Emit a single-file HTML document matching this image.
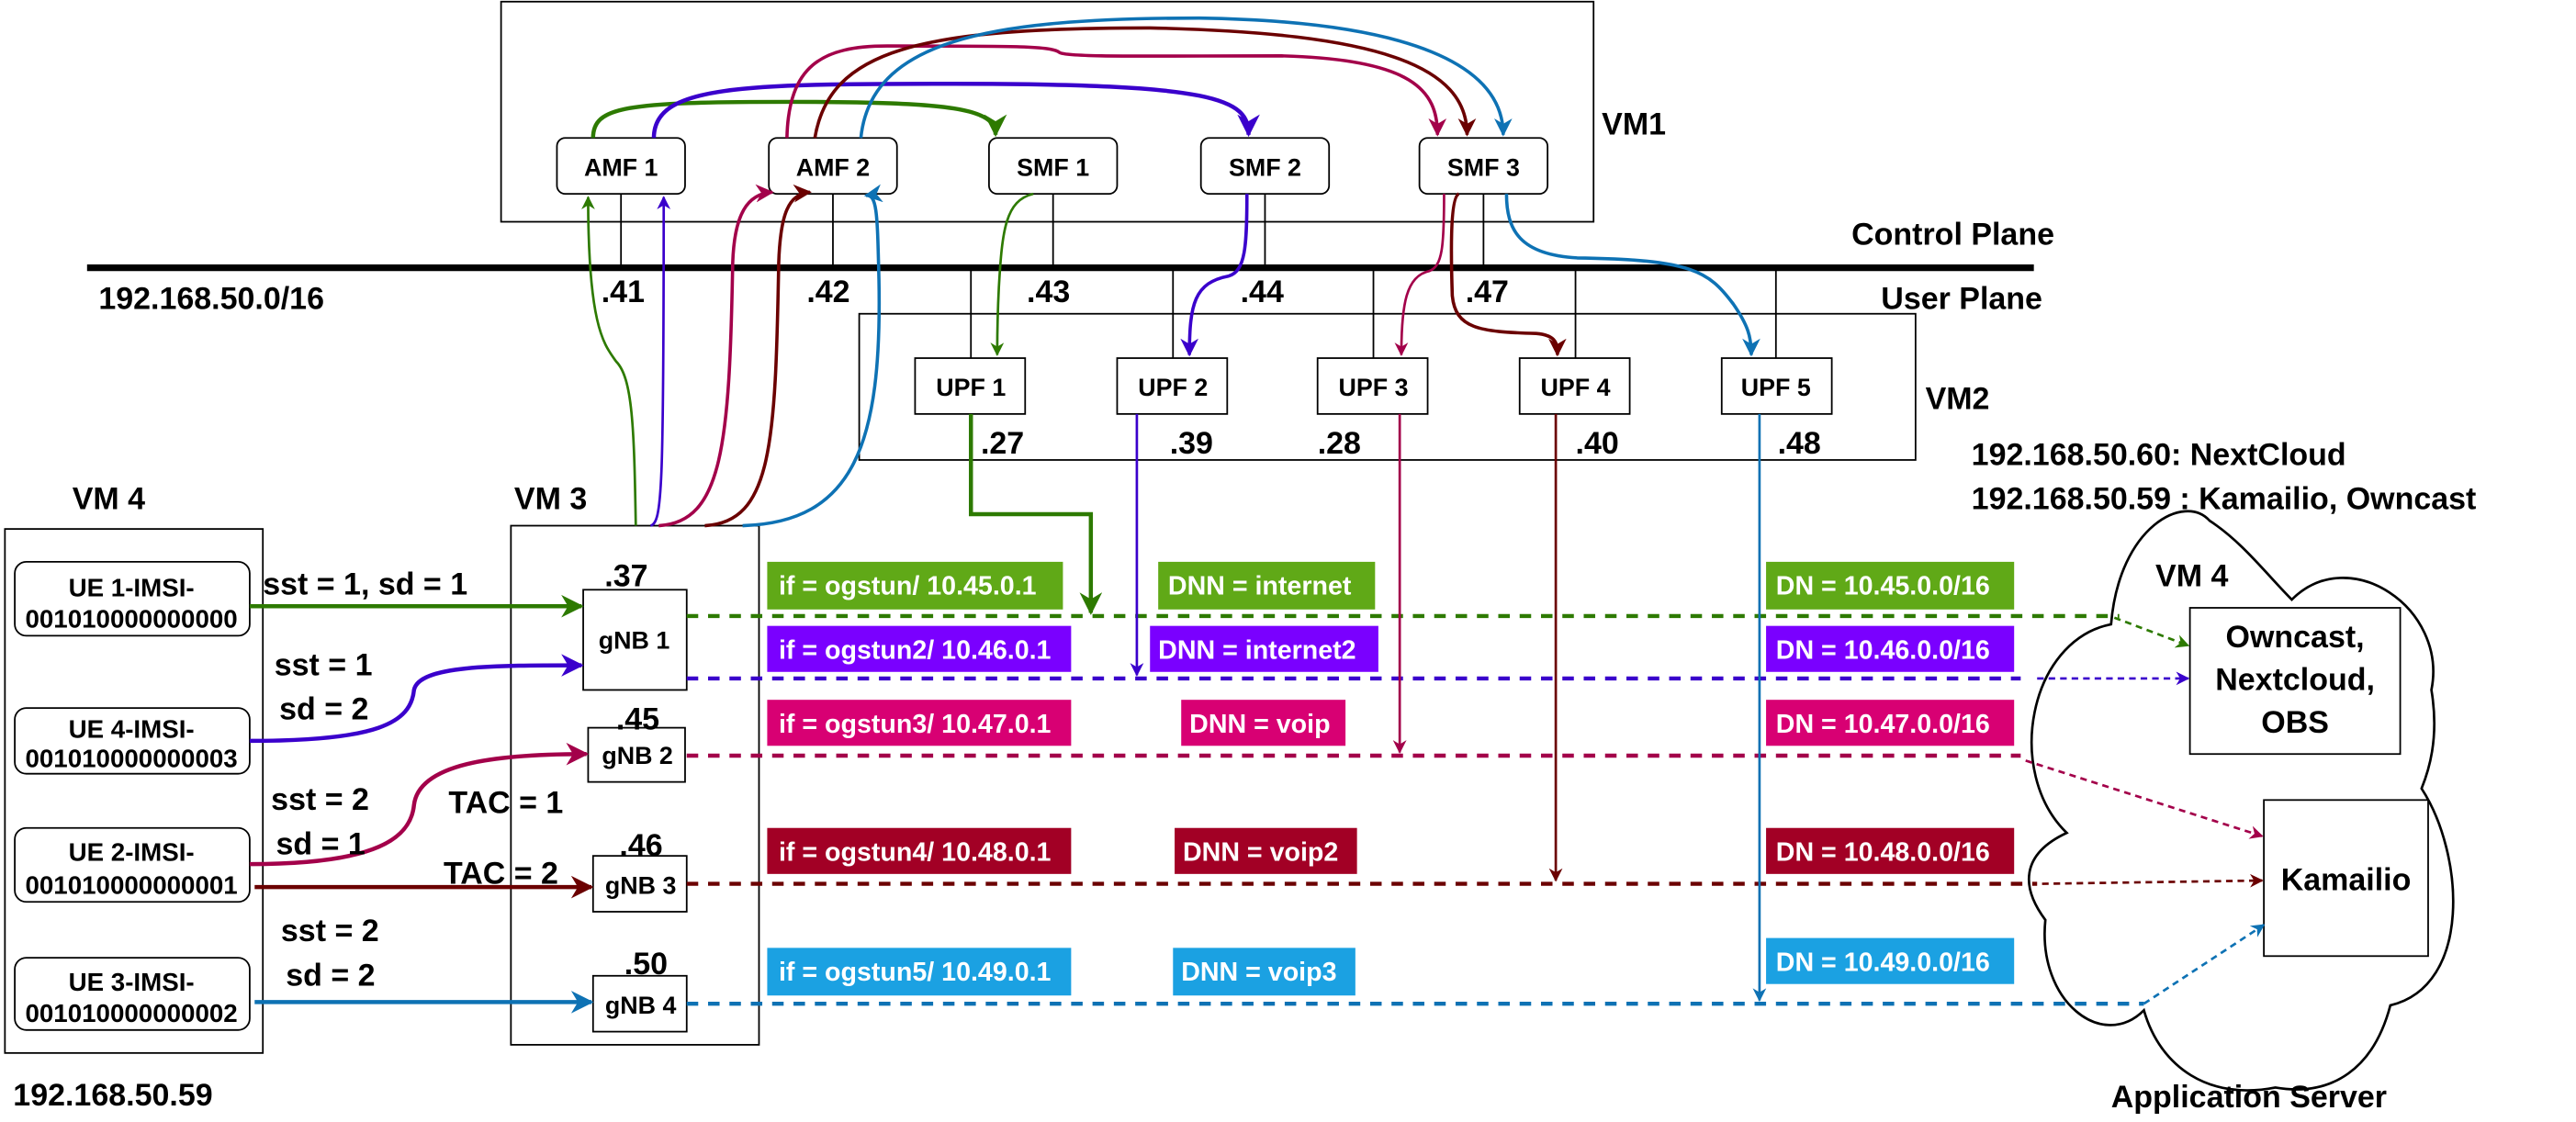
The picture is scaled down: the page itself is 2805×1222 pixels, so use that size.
<!DOCTYPE html>
<html><head><meta charset="utf-8"><style>
html,body{margin:0;padding:0;background:#fff;}
svg{display:block;}
text{font-family:"Liberation Sans",Arial,sans-serif;font-weight:bold;}
</style></head><body>
<svg width="2805" height="1222" viewBox="0 0 1568 683" preserveAspectRatio="none" xmlns="http://www.w3.org/2000/svg">
<defs>
<marker id="ag" viewBox="0 0 10 10" refX="9" refY="5" markerWidth="5.5" markerHeight="5.5" orient="auto-start-reverse"><path d="M0,0 L10,5 L0,10 L3,5z" fill="#2d7a00"/></marker>
<marker id="ap" viewBox="0 0 10 10" refX="9" refY="5" markerWidth="5.5" markerHeight="5.5" orient="auto"><path d="M0,0 L10,5 L0,10 L3,5z" fill="#3a00cc"/></marker>
<marker id="ac" viewBox="0 0 10 10" refX="9" refY="5" markerWidth="5.5" markerHeight="5.5" orient="auto"><path d="M0,0 L10,5 L0,10 L3,5z" fill="#a3004a"/></marker>
<marker id="ad" viewBox="0 0 10 10" refX="9" refY="5" markerWidth="5.5" markerHeight="5.5" orient="auto"><path d="M0,0 L10,5 L0,10 L3,5z" fill="#6b0000"/></marker>
<marker id="ab" viewBox="0 0 10 10" refX="9" refY="5" markerWidth="5.5" markerHeight="5.5" orient="auto"><path d="M0,0 L10,5 L0,10 L3,5z" fill="#0e72b4"/></marker>
</defs>
<g fill="none" stroke="#000" stroke-width="1">
<rect x="305" y="1" width="665" height="134"/>
<rect x="523" y="191" width="643" height="89"/>
<rect x="3" y="322" width="157" height="319"/>
<rect x="311" y="320" width="151" height="316"/>
<rect x="339" y="84" width="78" height="34" rx="5"/>
<rect x="468" y="84" width="78" height="34" rx="5"/>
<rect x="602" y="84" width="78" height="34" rx="5"/>
<rect x="731" y="84" width="78" height="34" rx="5"/>
<rect x="864" y="84" width="78" height="34" rx="5"/>
<rect x="557" y="218" width="67" height="34"/>
<rect x="680" y="218" width="67" height="34"/>
<rect x="802" y="218" width="67" height="34"/>
<rect x="925" y="218" width="67" height="34"/>
<rect x="1048" y="218" width="67" height="34"/>
<rect x="9" y="342" width="143" height="45" rx="7"/>
<rect x="9" y="431" width="143" height="40" rx="7"/>
<rect x="9" y="504" width="143" height="45" rx="7"/>
<rect x="9" y="583" width="143" height="44" rx="7"/>
<rect x="355" y="359" width="63" height="61"/>
<rect x="358" y="443" width="59" height="33"/>
<rect x="361" y="521" width="57" height="34"/>
<rect x="361" y="594" width="57" height="34"/>
<path d="M378,118V163 M507,118V163 M641,118V163 M770,118V163 M903,118V163 M591,163V218 M714,163V218 M836,163V218 M959,163V218 M1081,163V218"/>
</g>
<line x1="53" y1="163" x2="1238" y2="163" stroke="#000" stroke-width="4"/>
<path d="M1285,380 C1290,320 1330,300 1345,317 C1365,330 1380,350 1395,365 C1430,330 1490,370 1480,420 C1485,450 1478,470 1474,480 C1500,520 1505,600 1455,612 C1445,650 1420,668 1385,662 C1345,670 1315,650 1305,615 C1280,640 1240,610 1245,560 C1230,540 1230,520 1258,507 C1220,470 1235,390 1285,380 Z" fill="none" stroke="#000" stroke-width="1.5"/>
<rect x="1333" y="370" width="128" height="89" fill="#fff" stroke="#000"/>
<rect x="1378" y="487" width="100" height="95" fill="#fff" stroke="#000"/>
<g>
<rect x="467" y="342" width="180" height="29" fill="#60a917"/>
<rect x="705" y="342" width="132" height="29" fill="#60a917"/>
<rect x="1075" y="342" width="151" height="29" fill="#60a917"/>
<rect x="467" y="381" width="185" height="28" fill="#7a00ff"/>
<rect x="700" y="381" width="139" height="28" fill="#7a00ff"/>
<rect x="1075" y="381" width="151" height="28" fill="#7a00ff"/>
<rect x="467" y="426" width="185" height="28" fill="#d80073"/>
<rect x="719" y="426" width="100" height="28" fill="#d80073"/>
<rect x="1075" y="426" width="151" height="28" fill="#d80073"/>
<rect x="467" y="504" width="185" height="28" fill="#a20025"/>
<rect x="715" y="504" width="111" height="28" fill="#a20025"/>
<rect x="1075" y="504" width="151" height="28" fill="#a20025"/>
<rect x="467" y="577" width="185" height="29" fill="#1ba1e2"/>
<rect x="714" y="577" width="111" height="29" fill="#1ba1e2"/>
<rect x="1075" y="571" width="151" height="28" fill="#1ba1e2"/>
</g>
<g fill="#fff" font-size="16">
<text x="474" y="362">if = ogstun/ 10.45.0.1</text>
<text x="711" y="362">DNN = internet</text>
<text x="1081" y="362">DN = 10.45.0.0/16</text>
<text x="474" y="401">if = ogstun2/ 10.46.0.1</text>
<text x="705" y="401">DNN = internet2</text>
<text x="1081" y="401">DN = 10.46.0.0/16</text>
<text x="474" y="446">if = ogstun3/ 10.47.0.1</text>
<text x="724" y="446">DNN = voip</text>
<text x="1081" y="446">DN = 10.47.0.0/16</text>
<text x="474" y="524">if = ogstun4/ 10.48.0.1</text>
<text x="720" y="524">DNN = voip2</text>
<text x="1081" y="524">DN = 10.48.0.0/16</text>
<text x="474" y="597">if = ogstun5/ 10.49.0.1</text>
<text x="719" y="597">DNN = voip3</text>
<text x="1081" y="591">DN = 10.49.0.0/16</text>
</g>
<g fill="none" stroke-width="2.5" stroke-dasharray="7,6">
<path d="M418,375H1290" stroke="#2d7a00"/>
<path d="M418,413H1230" stroke="#3a00cc"/>
<path d="M418,460H1230" stroke="#a3004a"/>
<path d="M418,538H1240" stroke="#6b0000"/>
<path d="M418,611H1305" stroke="#0e72b4"/>
</g>
<g fill="none" stroke-width="1.5" stroke-dasharray="4,3">
<path d="M1287,376L1332,393" stroke="#2d7a00" marker-end="url(#ag)"/>
<path d="M1240,413H1332" stroke="#3a00cc" marker-end="url(#ap)"/>
<path d="M1233,463L1377,509" stroke="#a3004a" marker-end="url(#ac)"/>
<path d="M1243,538L1377,536" stroke="#6b0000" marker-end="url(#ad)"/>
<path d="M1305,611L1378,563" stroke="#0e72b4" marker-end="url(#ab)"/>
</g>
<g fill="none" stroke-width="2">
<path d="M152,369H354" stroke="#2d7a00" stroke-width="2.5" marker-end="url(#ag)"/>
<path d="M152,451C230,451 250,440 252,420C255,405 300,405 354,405" stroke="#3a00cc" stroke-width="2.5" marker-end="url(#ap)"/>
<path d="M152,526C230,526 250,510 252,490C255,465 300,459 357,459" stroke="#a3004a" stroke-width="2.5" marker-end="url(#ac)"/>
<path d="M155,540H360" stroke="#6b0000" stroke-width="2.5" marker-end="url(#ad)"/>
<path d="M155,610H360" stroke="#0e72b4" stroke-width="2.5" marker-end="url(#ab)"/>
<path d="M591,252V313H664V373" stroke="#2d7a00" stroke-width="2.5" marker-end="url(#ag)"/>
<path d="M692,252V411" stroke="#3a00cc" stroke-width="1.5" marker-end="url(#ap)"/>
<path d="M852,252V458" stroke="#a3004a" stroke-width="1.5" marker-end="url(#ac)"/>
<path d="M947,252V536" stroke="#6b0000" stroke-width="1.5" marker-end="url(#ad)"/>
<path d="M1071,252V609" stroke="#0e72b4" stroke-width="1.5" marker-end="url(#ab)"/>
<path d="M387,320C386,260 385,230 375,220C368,210 358,200 358,120" stroke="#2d7a00" stroke-width="1.5" marker-end="url(#ag)"/>
<path d="M396,320C403,318 404,300 404,120" stroke="#3a00cc" stroke-width="1.5" marker-end="url(#ap)"/>
<path d="M401,320C440,318 444,270 446,160C447,130 455,118 470,117" stroke="#a3004a" stroke-width="2" marker-end="url(#ac)"/>
<path d="M429,320C470,318 472,270 474,160C475,130 480,118 493,117" stroke="#6b0000" stroke-width="2" marker-end="url(#ad)"/>
<path d="M452,320C520,318 537,270 535,170C534,130 534,118 527,119" stroke="#0e72b4" stroke-width="2" marker-end="url(#ab)"/>
<path d="M361,84C361,65 380,62 480,62C580,62 606,66 606,82" stroke="#2d7a00" stroke-width="2.5" marker-end="url(#ag)"/>
<path d="M398,84C398,52 450,51 580,51C740,51 760,60 760,82" stroke="#3a00cc" stroke-width="2.5" marker-end="url(#ap)"/>
<path d="M479,84C480,40 500,28 540,28C620,28 640,28 645,32C650,35 700,34 780,34C860,36 875,55 875,82" stroke="#a3004a" stroke-width="2" marker-end="url(#ac)"/>
<path d="M496,84C505,30 560,17 700,17C840,20 893,40 893,82" stroke="#6b0000" stroke-width="2" marker-end="url(#ad)"/>
<path d="M524,84C530,25 600,11 730,11C860,13 915,40 915,82" stroke="#0e72b4" stroke-width="2" marker-end="url(#ab)"/>
<path d="M629,118C612,122 610,140 608,175C607,195 607,205 607,216" stroke="#2d7a00" stroke-width="1.5" marker-end="url(#ag)"/>
<path d="M759,118C759,150 758,165 748,168C727,172 724,185 724,216" stroke="#3a00cc" stroke-width="2" marker-end="url(#ap)"/>
<path d="M879,118C879,150 878,162 870,165C856,168 853,185 853,216" stroke="#a3004a" stroke-width="1.5" marker-end="url(#ac)"/>
<path d="M888,118C883,120 883,150 884,180C886,200 900,202 935,203C948,204 948,210 948,216" stroke="#6b0000" stroke-width="2" marker-end="url(#ad)"/>
<path d="M917,118C917,140 925,155 960,157C1030,158 1040,165 1055,185C1064,198 1066,205 1066,216" stroke="#0e72b4" stroke-width="2" marker-end="url(#ab)"/>
</g>
<g fill="#000">
<g font-size="15">
<text x="378" y="107" text-anchor="middle">AMF 1</text>
<text x="507" y="107" text-anchor="middle">AMF 2</text>
<text x="641" y="107" text-anchor="middle">SMF 1</text>
<text x="770" y="107" text-anchor="middle">SMF 2</text>
<text x="903" y="107" text-anchor="middle">SMF 3</text>
<text x="591" y="241" text-anchor="middle">UPF 1</text>
<text x="714" y="241" text-anchor="middle">UPF 2</text>
<text x="836" y="241" text-anchor="middle">UPF 3</text>
<text x="959" y="241" text-anchor="middle">UPF 4</text>
<text x="1081" y="241" text-anchor="middle">UPF 5</text>
<text x="386" y="395" text-anchor="middle">gNB 1</text>
<text x="388" y="465" text-anchor="middle">gNB 2</text>
<text x="390" y="544" text-anchor="middle">gNB 3</text>
<text x="390" y="617" text-anchor="middle">gNB 4</text>
</g>
<g font-size="15.5" text-anchor="middle">
<text x="80" y="363">UE 1-IMSI-</text><text x="80" y="382">001010000000000</text>
<text x="80" y="449">UE 4-IMSI-</text><text x="80" y="467">001010000000003</text>
<text x="80" y="524">UE 2-IMSI-</text><text x="80" y="544">001010000000001</text>
<text x="80" y="603">UE 3-IMSI-</text><text x="80" y="622">001010000000002</text>
</g>
<g font-size="19">
<text x="975" y="82">VM1</text>
<text x="1127" y="149">Control Plane</text>
<text x="1145" y="188">User Plane</text>
<text x="60" y="188">192.168.50.0/16</text>
<text x="1172" y="249">VM2</text>
<text x="1200" y="283">192.168.50.60: NextCloud</text>
<text x="1200" y="310">192.168.50.59 : Kamailio, Owncast</text>
<text x="44" y="310">VM 4</text>
<text x="313" y="310">VM 3</text>
<text x="8" y="673">192.168.50.59</text>
<text x="1312" y="357">VM 4</text>
<text x="1285" y="674">Application Server</text>
<text x="366" y="184">.41</text>
<text x="491" y="184">.42</text>
<text x="625" y="184">.43</text>
<text x="755" y="184">.44</text>
<text x="892" y="184">.47</text>
<text x="597" y="276">.27</text>
<text x="712" y="276">.39</text>
<text x="802" y="276">.28</text>
<text x="959" y="276">.40</text>
<text x="1082" y="276">.48</text>
<text x="368" y="357">.37</text>
<text x="375" y="444">.45</text>
<text x="377" y="521">.46</text>
<text x="380" y="593">.50</text>
<text x="160" y="362">sst = 1, sd = 1</text>
<text x="167" y="411">sst = 1</text>
<text x="170" y="438">sd = 2</text>
<text x="165" y="493">sst = 2</text>
<text x="168" y="520">sd = 1</text>
<text x="171" y="573">sst = 2</text>
<text x="174" y="600">sd = 2</text>
<text x="273" y="495">TAC = 1</text>
<text x="270" y="538">TAC = 2</text>
<text x="1397" y="394" text-anchor="middle">Owncast,</text>
<text x="1397" y="420" text-anchor="middle">Nextcloud,</text>
<text x="1397" y="446" text-anchor="middle">OBS</text>
<text x="1428" y="542" text-anchor="middle">Kamailio</text>
</g>
</g>
</svg>
</body></html>
